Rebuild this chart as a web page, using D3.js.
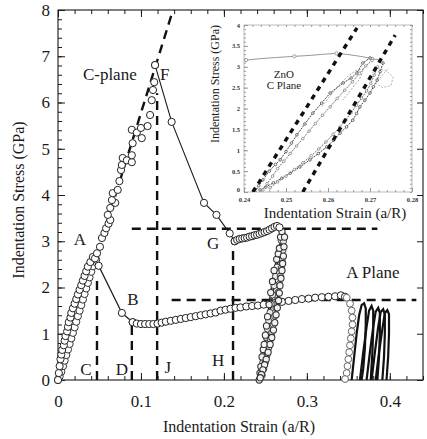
<!DOCTYPE html>
<html><head><meta charset="utf-8">
<script src="https://cdn.jsdelivr.net/npm/d3@7"></script>
<style>
html,body{margin:0;padding:0;background:#fff;}
</style></head>
<body><svg id="c" width="427" height="439"></svg>
<script>
// ---------- DATA ----------
const xMajorTicks = [0, 0.1, 0.2, 0.3, 0.4];
const xTickLabels = ["0", "0.1", "0.2", "0.3", "0.4"];
const yMajorTicks = [0, 1, 2, 3, 4, 5, 6, 7, 8];
const yTickLabels = ["0", "1", "2", "3", "4", "5", "6", "7", "8"];
const insetXTicks = [0.24, 0.25, 0.26, 0.27, 0.28];
const insetXLabels = ["0.24", "0.25", "0.26", "0.27", "0.28"];
const insetYTicks = [0, 0.5, 1, 1.5, 2, 2.5, 3, 3.5, 4];
const insetYLabels = ["0", "0.5", "1", "1.5", "2", "2.5", "3", "3.5", "4"];

// C-plane: elastic loading up to F
const cPlaneLoad = [[0,0],[0.001,0.15],[0.002,0.3],[0.003,0.45],[0.004,0.55],[0.005,0.65],[0.007,0.75],[0.008,0.85],[0.009,0.95],[0.011,1.05],[0.012,1.15],[0.013,1.25],[0.015,1.35],[0.016,1.45],[0.018,1.55],[0.020,1.65],[0.022,1.75],[0.024,1.85],[0.026,1.95],[0.028,2.05],[0.030,2.15],[0.032,2.25],[0.034,2.35],[0.036,2.45],[0.039,2.55],[0.042,2.66],[0.0446,2.63],[0.047,2.74],[0.0506,2.88],[0.053,3.07],[0.056,3.18],[0.058,3.28],[0.061,3.38],[0.063,3.46],[0.060,3.57],[0.063,3.72],[0.069,3.83],[0.065,3.89],[0.066,4.04],[0.072,4.11],[0.074,4.3],[0.076,4.54],[0.077,4.65],[0.078,4.80],[0.083,4.75],[0.089,4.71],[0.089,4.86],[0.090,5.12],[0.089,5.41],[0.095,5.35],[0.101,5.23],[0.100,5.45],[0.108,5.49],[0.111,5.73],[0.113,6.05],[0.1145,6.27],[0.116,6.44],[0.117,6.81]];
// C-plane: pop-in from F down to G
const cPlaneDrop = [[0.117,6.81],[0.137,5.58],[0.176,3.83],[0.191,3.57],[0.207,3.17],[0.213,3.0]];
// C-plane: plateau after G
const cPlaneHold = [[0.213,3.0],[0.216,3.03],[0.219,3.05],[0.222,3.06],[0.225,3.07],[0.228,3.08],[0.231,3.1],[0.234,3.11],[0.237,3.13],[0.240,3.14],[0.243,3.16],[0.246,3.18],[0.249,3.2],[0.252,3.22],[0.255,3.25],[0.258,3.28],[0.261,3.31],[0.264,3.33],[0.267,3.3]];
// C-plane cyclic loops (also shown in inset)
const cLoopLoad = [[0.2426,0],[0.2435,0.15],[0.2445,0.29],[0.246,0.5],[0.2475,0.66],[0.2486,0.77],[0.25,0.97],[0.2513,1.17],[0.2526,1.37],[0.2545,1.63],[0.2564,1.89],[0.2585,2.13],[0.2605,2.37],[0.2636,2.61],[0.2655,2.73],[0.2669,2.85],[0.2683,3.09],[0.27,3.21]];
const cLoopUnload = [[0.2731,3.09],[0.2724,2.88],[0.2717,2.68],[0.2708,2.52],[0.27,2.37],[0.2688,2.2],[0.2676,2.04],[0.2668,1.88],[0.2659,1.72],[0.2644,1.56],[0.2629,1.41],[0.2613,1.24],[0.2597,1.08],[0.2577,0.92],[0.2557,0.77],[0.2533,0.6],[0.251,0.45],[0.249,0.33],[0.247,0.22],[0.2452,0.12],[0.2438,0.05]];
const cLoopLoad2 = [[0.2445,0.05],[0.2455,0.2],[0.2468,0.38],[0.248,0.56],[0.2495,0.74],[0.251,0.92],[0.2525,1.1],[0.254,1.28],[0.2555,1.46],[0.257,1.64],[0.2587,1.84],[0.2605,2.04],[0.2622,2.24],[0.264,2.44],[0.2658,2.64],[0.2675,2.84],[0.269,3.02],[0.2705,3.15]];
const cLoopUnload2 = [[0.2718,3.0],[0.271,2.8],[0.2702,2.6],[0.2692,2.42],[0.268,2.25],[0.2668,2.08],[0.2655,1.9],[0.2642,1.72],[0.2628,1.55],[0.2612,1.38],[0.2595,1.2],[0.2578,1.03],[0.256,0.87],[0.254,0.7],[0.252,0.54],[0.25,0.38],[0.248,0.24],[0.2462,0.1]];
const cLoopInner = [[0.2585,2.05],[0.2605,2.3],[0.2625,2.55],[0.2645,2.75],[0.2665,2.9],[0.2685,2.95],[0.2675,2.7],[0.2655,2.45],[0.2635,2.2]];
const insetScatter = [[0.2705,2.85],[0.272,2.95],[0.274,2.9],[0.2755,2.75],[0.275,2.55],[0.273,2.5],[0.2715,2.6],[0.2725,2.75],[0.2745,2.98]];
const insetTop = [[0.236,3.15],[0.2405,3.16],[0.2445,3.2],[0.2475,3.22],[0.252,3.25],[0.2555,3.27],[0.259,3.3],[0.262,3.32],[0.265,3.29],[0.2683,3.24],[0.2705,3.19],[0.2725,3.16]];

// A-plane
const aPlaneLoad = [[0,0],[0.002,0.08],[0.004,0.18],[0.006,0.3],[0.008,0.42],[0.010,0.54],[0.012,0.66],[0.014,0.78],[0.016,0.9],[0.018,1.02],[0.020,1.14],[0.022,1.26],[0.024,1.38],[0.026,1.5],[0.028,1.62],[0.030,1.74],[0.032,1.86],[0.034,1.98],[0.036,2.1],[0.038,2.22],[0.040,2.34],[0.042,2.46],[0.044,2.56],[0.046,2.6]];
const aPlaneDrop = [[0.046,2.6],[0.049,2.47],[0.077,1.45],[0.090,1.25]];
const aPlaneHold = [[0.090,1.25],[0.095,1.22],[0.100,1.21],[0.105,1.21],[0.110,1.21],[0.115,1.21],[0.120,1.22],[0.125,1.24],[0.130,1.26],[0.136,1.28],[0.142,1.3],[0.148,1.32],[0.154,1.34],[0.160,1.36],[0.166,1.38],[0.172,1.4],[0.178,1.42],[0.184,1.44],[0.190,1.46],[0.196,1.5],[0.202,1.52],[0.208,1.54],[0.214,1.56],[0.220,1.57],[0.227,1.59],[0.234,1.6],[0.241,1.61],[0.248,1.63],[0.255,1.65],[0.262,1.67],[0.270,1.69],[0.278,1.71],[0.286,1.73],[0.294,1.75],[0.302,1.76],[0.310,1.78],[0.318,1.79],[0.326,1.8],[0.334,1.81],[0.341,1.83],[0.346,1.8]];
const aPlaneUnload = [[0.348,1.78],[0.352,1.65],[0.354,1.5],[0.355,1.35],[0.355,1.2],[0.354,1.05],[0.353,0.9],[0.352,0.75],[0.351,0.6],[0.350,0.45],[0.349,0.3],[0.348,0.15],[0.346,0.02]];
const aLoop1 = [[0.354,0],[0.357,0.5],[0.360,1.0],[0.363,1.4],[0.366,1.62],[0.369,1.66],[0.371,1.55],[0.371,1.2],[0.370,0.7],[0.368,0.25],[0.366,0]];
const aLoop2 = [[0.364,0],[0.368,0.6],[0.372,1.15],[0.375,1.5],[0.378,1.6],[0.380,1.5],[0.380,1.1],[0.379,0.6],[0.377,0]];
const aLoop3 = [[0.372,0],[0.376,0.6],[0.380,1.15],[0.383,1.48],[0.386,1.56],[0.388,1.45],[0.388,1.0],[0.387,0.5],[0.385,0]];
const aLoop4 = [[0.378,0],[0.382,0.6],[0.386,1.15],[0.389,1.47],[0.392,1.53],[0.394,1.42],[0.394,1.0],[0.393,0.5],[0.391,0]];
const aLoop5 = [[0.383,0],[0.387,0.6],[0.391,1.1],[0.394,1.45],[0.397,1.51],[0.399,1.42],[0.399,1.0],[0.398,0.5],[0.396,0]];

// dashed guide lines [x1,y1,x2,y2]
const guideLines = [[0.058,3.35,0.1386,8],[0.047,0,0.047,2.2],[0.089,0,0.089,1.25],[0.1195,0,0.1195,6.2],[0.211,0,0.211,2.95],[0.089,3.27,0.385,3.27],[0.137,1.73,0.432,1.73]];
const insetGuides = [[0.2421,0,0.2669,3.93],[0.254,0,0.276,3.76]];

// annotations [text, x, y, anchor]
const mainLabels = [["C-plane",0.030,6.49,"start"],["F",0.123,6.49,"start"],["A",0.0265,2.92,"middle"],["B",0.0904,1.62,"middle"],["C",0.0337,0.108,"middle"],["D",0.077,0.108,"middle"],["J",0.1325,0.15,"middle"],["G",0.187,2.83,"middle"],["H",0.193,0.30,"middle"],["A Plane",0.3795,2.2,"middle"]];
const insetLabels = [["ZnO",0.2495,2.74],["C Plane",0.2495,2.47]];

// ---------- DRAW ----------
const FONT = "'Liberation Serif', serif";
const svg = d3.select("#c").attr("font-family",FONT);
svg.append("rect").attr("width",427).attr("height",439).attr("fill","#fff");
const ink = "#1a1a1a";
const x = d3.scaleLinear().domain([0,0.44]).range([58,423]);
const y = d3.scaleLinear().domain([0,8]).range([380,10]);

svg.append("rect").attr("x",58).attr("y",10).attr("width",365).attr("height",370)
  .attr("fill","none").attr("stroke",ink).attr("stroke-width",1.1);

function styleAxis(g){ g.attr("font-family",FONT); g.select(".domain").remove(); g.selectAll("line").attr("stroke",ink); g.selectAll("text").attr("fill",ink).attr("font-size",17).attr("font-family",FONT); }
const xMinor = d3.range(0,0.441,0.02);
const yMinor = d3.range(0,8.01,0.2);
svg.append("g").attr("transform","translate(0,380)").call(d3.axisBottom(x).tickValues(xMinor).tickSize(-4).tickFormat("")).call(styleAxis);
svg.append("g").attr("transform","translate(0,380)").call(d3.axisBottom(x).tickValues(xMajorTicks).tickSize(-7).tickPadding(15).tickFormat((d,i)=>xTickLabels[i])).call(styleAxis);
svg.append("g").attr("transform","translate(0,10)").call(d3.axisTop(x).tickValues(xMinor).tickSize(-4).tickFormat("")).call(styleAxis);
svg.append("g").attr("transform","translate(0,10)").call(d3.axisTop(x).tickValues(xMajorTicks).tickSize(-7).tickFormat("")).call(styleAxis);
svg.append("g").attr("transform","translate(58,0)").call(d3.axisLeft(y).tickValues(yMinor).tickSize(-4).tickFormat("")).call(styleAxis);
svg.append("g").attr("transform","translate(58,0)").call(d3.axisLeft(y).tickValues(yMajorTicks).tickSize(-7).tickPadding(8).tickFormat((d,i)=>yTickLabels[i])).call(styleAxis);
svg.append("g").attr("transform","translate(423,0)").call(d3.axisRight(y).tickValues(yMajorTicks).tickSize(-6).tickFormat("")).call(styleAxis);

svg.append("text").attr("x",239).attr("y",432).attr("text-anchor","middle").attr("font-family",FONT).attr("font-size",16).attr("fill",ink).text("Indentation Strain (a/R)");
svg.append("text").attr("transform","translate(24,200) rotate(-90)").attr("text-anchor","middle").attr("font-family",FONT).attr("font-size",16).attr("fill",ink).text("Indentation Stress (GPa)");

svg.append("g").selectAll("line").data(guideLines).join("line")
  .attr("x1",d=>x(d[0])).attr("y1",d=>y(d[1])).attr("x2",d=>x(d[2])).attr("y2",d=>y(d[3]))
  .attr("stroke","#111").attr("stroke-width",2.4).attr("stroke-dasharray","9,6");

const line = d3.line().x(d=>x(d[0])).y(d=>y(d[1]));
function circles(data, r, stroke, sw, fill){
  svg.append("g").selectAll("circle").data(data).join("circle")
    .attr("cx",d=>x(d[0])).attr("cy",d=>y(d[1])).attr("r",r)
    .attr("fill",fill||"#fff").attr("stroke",stroke).attr("stroke-width",sw);
}
function path(data, stroke, sw){
  svg.append("path").datum(data).attr("d",line).attr("fill","none").attr("stroke",stroke).attr("stroke-width",sw);
}
// A-plane
[aLoop1,aLoop2,aLoop3,aLoop4,aLoop5].forEach(l=>{ path(l,"#111",2.2); });
path(aPlaneDrop,ink,1.3);
circles(aPlaneLoad,3.6,"#333",1);
circles(aPlaneDrop.slice(1),3.6,"#222",1);
circles(aPlaneHold,3.6,"#222",1);
circles(aPlaneUnload,3.4,"#666",1);
// C-plane loops (dense band)
[cLoopLoad,cLoopUnload,cLoopLoad2,cLoopUnload2].forEach(d=>path(d,"#222",1.6));
[cLoopLoad2,cLoopUnload2].forEach(d=>circles(d,3.1,"#444",1,"#e8e8e8"));
[cLoopLoad,cLoopUnload].forEach(d=>circles(d,3.1,"#333",1.1,"#f4f4f4"));
path(cPlaneDrop,ink,1.1);
circles(cPlaneLoad,3.6,"#222",1);
circles(cPlaneDrop,3.6,"#222",1);
circles(cPlaneHold,3.6,"#222",1);

svg.append("g").selectAll("text").data(mainLabels).join("text")
  .attr("x",d=>x(d[1])).attr("y",d=>y(d[2])).attr("text-anchor",d=>d[3])
  .attr("font-family",FONT).attr("font-size",17).attr("fill",ink).text(d=>d[0]);

// ---------- INSET ----------
const xi = d3.scaleLinear().domain([0.24,0.28]).range([244,412]);
const yi = d3.scaleLinear().domain([0,4]).range([192,25]);
const ig = svg.append("g");
ig.append("clipPath").attr("id","ic").append("rect").attr("x",244).attr("y",25).attr("width",168).attr("height",167);
ig.append("rect").attr("x",244).attr("y",25).attr("width",168).attr("height",167).attr("fill","none").attr("stroke","#aaa").attr("stroke-width",0.8);
function insetAxis(g){ g.attr("font-family",FONT); g.select(".domain").remove(); g.selectAll("line").attr("stroke","#999"); g.selectAll("text").attr("fill","#333").attr("font-size",6.5).attr("font-weight","bold").attr("font-family",FONT); }
const ixMinor = d3.range(0.24,0.2801,0.002);
const iyMinor = d3.range(0,4.01,0.1);
ig.append("g").attr("transform","translate(0,192)").call(d3.axisBottom(xi).tickValues(ixMinor).tickSize(-2).tickFormat("")).call(insetAxis);
ig.append("g").attr("transform","translate(0,192)").call(d3.axisBottom(xi).tickValues(insetXTicks).tickSize(-4).tickPadding(5).tickFormat((d,i)=>insetXLabels[i])).call(insetAxis);
ig.append("g").attr("transform","translate(0,25)").call(d3.axisTop(xi).tickValues(ixMinor).tickSize(-2).tickFormat("")).call(insetAxis);
ig.append("g").attr("transform","translate(244,0)").call(d3.axisLeft(yi).tickValues(iyMinor).tickSize(-2).tickFormat("")).call(insetAxis);
ig.append("g").attr("transform","translate(244,0)").call(d3.axisLeft(yi).tickValues(insetYTicks).tickSize(-4).tickPadding(4).tickFormat((d,i)=>insetYLabels[i])).call(insetAxis)
  .selectAll(".tick text").attr("dy",(d)=>d===0?"-0.05em":"0.32em");
ig.append("g").attr("transform","translate(412,0)").call(d3.axisRight(yi).tickValues(iyMinor).tickSize(-2).tickFormat("")).call(insetAxis);
ig.append("text").attr("x",335).attr("y",218).attr("text-anchor","middle").attr("font-family",FONT).attr("font-size",15).attr("fill",ink).text("Indentation Strain (a/R)");
ig.append("text").attr("transform","translate(219,84) rotate(-90)").attr("text-anchor","middle").attr("font-family",FONT).attr("font-size",12).attr("fill",ink).text("Indentation Stress (GPa)");

const lineI = d3.line().x(d=>xi(d[0])).y(d=>yi(d[1]));
const ic = ig.append("g").attr("clip-path","url(#ic)");
ic.append("path").datum(insetTop).attr("d",lineI).attr("fill","none").attr("stroke","#999").attr("stroke-width",1);
ic.append("g").selectAll("circle").data(insetTop.filter((d,i)=>i%3===1)).join("circle")
  .attr("cx",d=>xi(d[0])).attr("cy",d=>yi(d[1])).attr("r",1.6).attr("fill","#fff").attr("stroke","#888").attr("stroke-width",0.8);
[[cLoopInner,"#999"],[insetScatter,"#aaa"]].forEach(([d,c])=>{
  ic.append("path").datum(d).attr("d",lineI).attr("fill","none").attr("stroke",c).attr("stroke-width",0.9).attr("stroke-dasharray","2,1.5");
});
[cLoopLoad,cLoopUnload,cLoopLoad2,cLoopUnload2].forEach((d,k)=>{
  ic.append("path").datum(d).attr("d",lineI).attr("fill","none").attr("stroke",k<2?"#444":"#777").attr("stroke-width",1).attr("stroke-dasharray","2,1");
  ic.append("g").selectAll("circle").data(d).join("circle")
    .attr("cx",p=>xi(p[0])).attr("cy",p=>yi(p[1])).attr("r",1.3).attr("fill","#fff").attr("stroke",k<2?"#333":"#777").attr("stroke-width",0.7);
});
ic.append("g").selectAll("line").data(insetGuides).join("line")
  .attr("x1",d=>xi(d[0])).attr("y1",d=>yi(d[1])).attr("x2",d=>xi(d[2])).attr("y2",d=>yi(d[3]))
  .attr("stroke","#111").attr("stroke-width",3.4).attr("stroke-dasharray","5,5");
ig.append("g").selectAll("text").data(insetLabels).join("text")
  .attr("x",d=>xi(d[1])).attr("y",d=>yi(d[2])).attr("text-anchor","middle")
  .attr("font-family",FONT).attr("font-size",11).attr("fill",ink).text(d=>d[0]);
</script></body></html>
